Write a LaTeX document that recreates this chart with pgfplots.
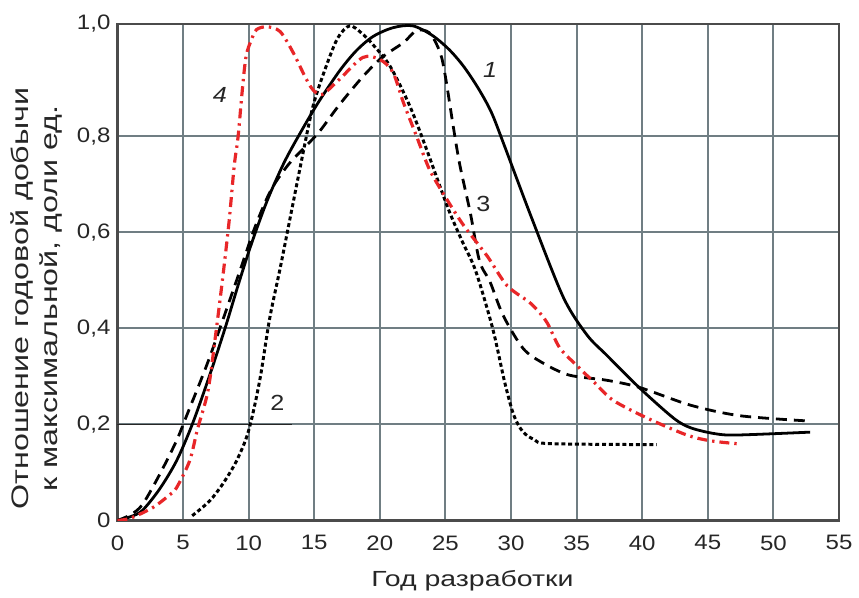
\documentclass[border=0pt]{standalone}
\usepackage{fontspec}
\setmainfont{Liberation Sans}
\newfontfamily\tickfont[FakeStretch=1.15]{Liberation Sans}
\newfontfamily\labfont[FakeStretch=1.3]{Liberation Sans}
\newfontfamily\ylabfont[FakeStretch=1.35]{Liberation Sans}
\usepackage{pgfplots}
\pgfplotsset{compat=1.18}

\definecolor{gridc}{RGB}{112,126,131}
\definecolor{framec}{RGB}{75,75,75}
\definecolor{curvered}{RGB}{232,38,40}

\begin{document}
\begin{tikzpicture}
\begin{axis}[
    scale only axis,
    width=362.5pt, height=249.5pt,
    xmin=0, xmax=55, ymin=0, ymax=1.034,
    xtick={0,5,...,55},
    ytick={0,0.2,0.4,0.6,0.8,1.034},
    yticklabels={0,{0,2},{0,4},{0,6},{0,8},{1,0}},
    grid=major,
    major grid style={gridc, line width=1pt},
    major tick length=0pt,
    axis line style={framec, line width=1.2pt},
    tick label style={font=\tickfont\fontsize{10.5}{12}\selectfont, text=black!85},
    /pgf/number format/assume math mode=true,
    xticklabel style={yshift=-4pt},
    xlabel={Год разработки},
    xlabel style={font=\labfont\fontsize{11}{13}\selectfont, text=black!85,
        at={(axis description cs:0.492,0)}, anchor=base, yshift=-33pt},
    ylabel={Отношение годовой добычи\\к максимальной, доли ед.},
    ylabel style={font=\ylabfont\fontsize{12}{14.5}\selectfont, text=black!85, align=center,
        at={(axis description cs:-0.112,0.447)}, anchor=center},
]

% darker piece of the 0,2 grid line
\addplot[black!85, line width=0.9pt] coordinates {(0,0.2) (13.3,0.2)};

% 1 - solid
\addplot[black, line width=1.4pt, smooth, tension=0.5] coordinates {
(0,0) (1,0.008) (1.9,0.021) (3.2,0.065) (4.5,0.124) (5.7,0.2) (7,0.3) (8.2,0.4)
(9.2,0.49) (10.2,0.575) (11.4,0.665) (12.7,0.745) (14,0.81) (15.3,0.87)
(16.9,0.935) (18.2,0.978) (19.5,1.008) (21,1.026) (22.5,1.03) (24,1.01) (25.3,0.98)
(26.4,0.945) (27.5,0.9) (28.5,0.85) (29.5,0.78) (31.6,0.628) (34,0.464) (35.8,0.386)
(37.3,0.344) (39.8,0.276) (42.4,0.213) (43.7,0.193) (45.5,0.181) (47.2,0.178)
(52.8,0.184)
};

% 2 - dotted
\addplot[black, line width=1.5pt, dash pattern=on 2pt off 1.4pt, smooth, tension=0.5] coordinates {
(5.7,0.01) (7,0.04) (8,0.075) (9,0.12) (9.8,0.17) (10.3,0.22) (10.9,0.3) (11.6,0.42)
(12.4,0.525) (13.2,0.635) (14,0.745) (14.9,0.862) (15.9,0.945) (16.8,1.005)
(17.7,1.03) (18.6,1.015) (19.5,0.99) (20.8,0.945) (22.3,0.862) (23.6,0.77)
(25.2,0.65) (26.3,0.58) (27.3,0.52) (28.6,0.4) (29.5,0.29) (30.2,0.22)
(30.9,0.185) (31.8,0.168) (33,0.16) (41.1,0.158)
};

% 3 - long dashes
\addplot[black, line width=1.4pt, dash pattern=on 5.5pt off 3.5pt, smooth, tension=0.5] coordinates {
(0,0) (1,0.012) (1.9,0.033) (3.2,0.095) (4.5,0.166) (5.3,0.22) (6.8,0.323)
(8,0.415) (9.4,0.525) (10.5,0.612) (11.7,0.688) (13,0.74) (14.2,0.775) (15.4,0.81)
(16.9,0.865) (18.7,0.924) (20.2,0.965) (21.8,0.995) (22.8,1.02) (23.8,1.015)
(24.6,0.974) (25,0.924) (25.6,0.82) (26.1,0.74) (26.9,0.64) (27.6,0.54)
(28.4,0.497) (29.4,0.427) (30.9,0.359) (32.3,0.33) (34.4,0.303) (37.3,0.292)
(39.8,0.277) (43.7,0.24) (47.5,0.218) (52.8,0.207)
};

% 4 - red dash-dot
\addplot[curvered, line width=1.6pt, dash pattern=on 5pt off 2.5pt on 1.2pt off 2.5pt, smooth, tension=0.5] coordinates {
(0,0) (1,0.005) (2.7,0.027) (4,0.054) (4.5,0.068) (5.5,0.124) (6.1,0.19)
(6.9,0.27) (7.5,0.39) (8,0.5) (8.5,0.62) (8.9,0.738) (9.2,0.8) (9.5,0.891)
(9.8,0.966) (10.2,1.0) (10.6,1.022) (11.4,1.028) (12.4,1.018) (13.4,0.974)
(14.3,0.924) (14.9,0.897) (15.6,0.887) (16.9,0.918) (18.7,0.964) (20,0.96)
(21,0.933) (21.8,0.87) (22.8,0.8) (23.8,0.73) (25.1,0.669) (26.4,0.614)
(28.2,0.55) (29.7,0.489) (31.5,0.452) (32.7,0.414) (33.7,0.36) (35,0.323)
(36.4,0.286) (37.8,0.25) (40.4,0.213) (43.4,0.178) (45.2,0.166) (47.2,0.16)
};

\node[font=\tickfont\itshape\fontsize{11}{12}\selectfont, text=black!85] at (axis cs:28.4,0.939) {1};
\node[font=\tickfont\fontsize{11}{12}\selectfont, text=black!85] at (axis cs:12.2,0.245) {2};
\node[font=\tickfont\fontsize{11}{12}\selectfont, text=black!85] at (axis cs:27.9,0.659) {3};
\node[font=\tickfont\itshape\fontsize{11}{12}\selectfont, text=black!85] at (axis cs:7.8,0.887) {4};
\end{axis}
\path ([shift={(-59pt,-37.5pt)}]current axis.south west) rectangle ([shift={(8pt,12pt)}]current axis.north east);
\end{tikzpicture}
\end{document}
